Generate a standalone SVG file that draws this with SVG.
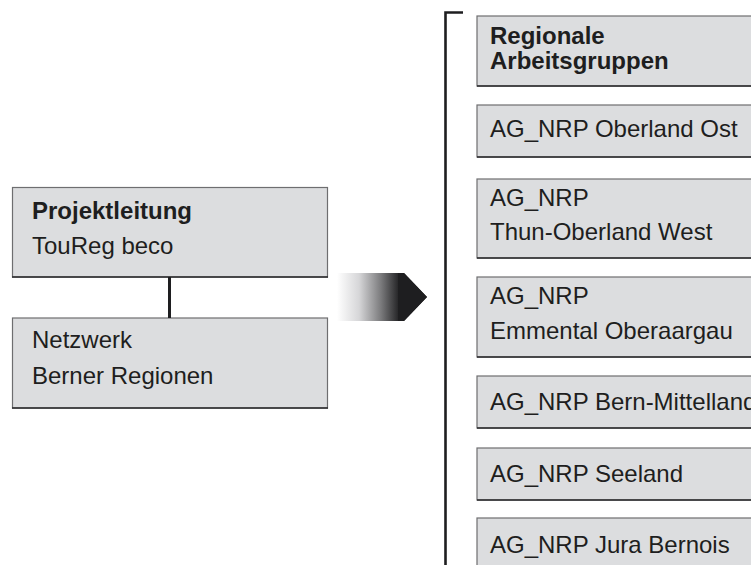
<svg xmlns="http://www.w3.org/2000/svg" width="751" height="565" viewBox="0 0 751 565">
<defs>
<linearGradient id="arrowGrad" gradientUnits="userSpaceOnUse" x1="337" y1="0" x2="400" y2="0">
<stop offset="0" stop-color="#ffffff"/>
<stop offset="0.35" stop-color="#d6d6d8"/>
<stop offset="0.7" stop-color="#7a7a7c"/>
<stop offset="1" stop-color="#1e1e20"/>
</linearGradient>
</defs>
<style>
.box{fill:#dcdddf;stroke:#6e6e70;stroke-width:1.2}
.bot{stroke:#2a2a2c;stroke-width:1.5}
.t{font-family:"Liberation Sans",Arial,Helvetica,sans-serif;font-size:24px;fill:#1e1e20}
.b{font-weight:bold}
.line{stroke:#1e1e20;fill:none}
</style>
<rect width="751" height="565" fill="#ffffff"/>
<g id="projektleitung">
<rect class="box" x="12.5" y="187.5" width="315" height="89.5"/>
<line class="bot" x1="12" y1="277" x2="328" y2="277"/>
<text class="t b" x="32" y="219">Projektleitung</text>
<text class="t" x="32" y="254">TouReg beco</text>
</g>
<g id="netzwerk">
<rect class="box" x="12.5" y="318" width="315" height="90"/>
<line class="bot" x1="12" y1="408" x2="328" y2="408"/>
<text class="t" x="32" y="348">Netzwerk</text>
<text class="t" x="32" y="384">Berner Regionen</text>
</g>
<g id="arrow">
<polygon points="337,273 404,273 427,297 404,321 337,321" fill="url(#arrowGrad)"/>
<polygon points="398,273 404,273 427,297 404,321 398,321" fill="#1e1e20"/>
</g>
<g id="connectors">
<line class="line" x1="169.5" y1="277" x2="169.5" y2="318" stroke-width="3"/>
<polyline class="line" points="463,12.5 445.5,12.5 445.5,565" stroke-width="2.6"/>
</g>
<g id="regionale">
<rect class="box" x="477" y="16" width="290" height="70"/>
<line class="bot" x1="477" y1="86" x2="751" y2="86"/>
<text class="t b" x="490" y="44">Regionale</text>
<text class="t b" x="490" y="69">Arbeitsgruppen</text>
</g>
<g id="oberland-ost">
<rect class="box" x="477" y="105" width="290" height="52"/>
<line class="bot" x1="477" y1="157" x2="751" y2="157"/>
<text class="t" x="490" y="137">AG_NRP Oberland Ost</text>
</g>
<g id="thun-oberland-west">
<rect class="box" x="477" y="179" width="290" height="79"/>
<line class="bot" x1="477" y1="258" x2="751" y2="258"/>
<text class="t" x="490" y="206">AG_NRP</text>
<text class="t" x="490" y="240">Thun-Oberland West</text>
</g>
<g id="emmental-oberaargau">
<rect class="box" x="477" y="277" width="290" height="80"/>
<line class="bot" x1="477" y1="357" x2="751" y2="357"/>
<text class="t" x="490" y="304">AG_NRP</text>
<text class="t" x="490" y="339">Emmental Oberaargau</text>
</g>
<g id="bern-mittelland">
<rect class="box" x="477" y="376" width="290" height="52"/>
<line class="bot" x1="477" y1="428" x2="751" y2="428"/>
<text class="t" x="490" y="410">AG_NRP Bern-Mittelland</text>
</g>
<g id="seeland">
<rect class="box" x="477" y="448" width="290" height="52"/>
<line class="bot" x1="477" y1="500" x2="751" y2="500"/>
<text class="t" x="490" y="482">AG_NRP Seeland</text>
</g>
<g id="jura-bernois">
<rect class="box" x="477" y="518" width="290" height="60"/>
<text class="t" x="490" y="553">AG_NRP Jura Bernois</text>
</g>
</svg>
